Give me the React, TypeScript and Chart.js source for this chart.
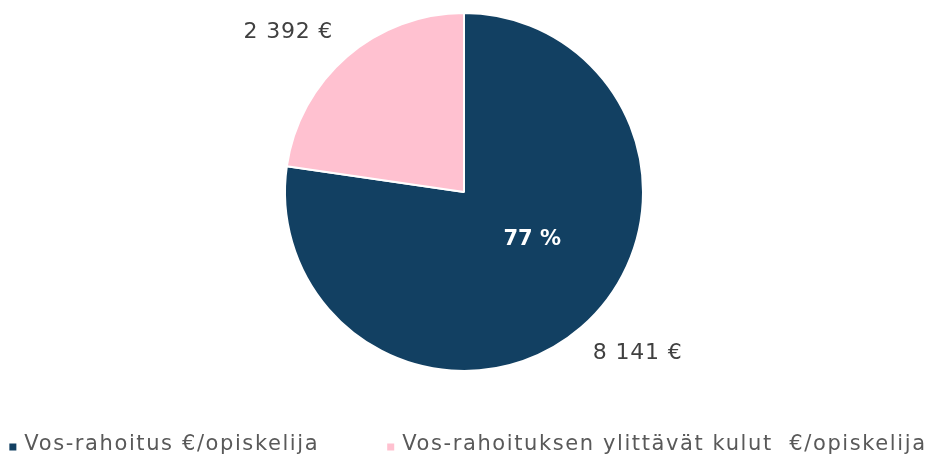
import React, { useEffect, useRef } from "react";
import { Chart, registerables } from "chart.js";

Chart.register(...registerables);

const categories = ["Vos-rahoitus €/opiskelija", "Vos-rahoituksen ylittävät kulut  €/opiskelija"];
const values = [8141, 2392];
const valueLabels = ["8 141 €", "2 392 €"];
const colors = ["#124062", "#FFC1D0"];

const labelFont = "'DejaVu Sans', sans-serif";

const labelPlugin = {
  id: "sliceLabels",
  afterDatasetsDraw(chart: any) {
    const { ctx } = chart;
    const meta = chart.getDatasetMeta(0);
    const total = values.reduce((a, b) => a + b, 0);
    ctx.save();
    ctx.textAlign = "center";
    ctx.textBaseline = "middle";
    meta.data.forEach((arc: any, i: number) => {
      const { x, y, startAngle, endAngle, outerRadius } = arc.getProps(
        ["x", "y", "startAngle", "endAngle", "outerRadius"],
        true
      );
      const mid = (startAngle + endAngle) / 2;
      const a = mid - (6.5 * Math.PI) / 180;
      const r = outerRadius * 1.326;
      ctx.fillStyle = "#404040";
      ctx.font = `22px ${labelFont}`;
      (ctx as any).letterSpacing = "0.8px";
      ctx.fillText(valueLabels[i], x + Math.cos(a) * r - 1, y + Math.sin(a) * r + 1);
      (ctx as any).letterSpacing = "0px";
      if (i === 0) {
        const pct = Math.round((values[i] / total) * 100) + " %";
        const a2 = mid - (14 * Math.PI) / 180;
        const r2 = outerRadius * 0.466;
        ctx.fillStyle = "#FFFFFF";
        ctx.font = `bold 21px ${labelFont}`;
        ctx.fillText(pct, x + Math.cos(a2) * r2, y + Math.sin(a2) * r2);
      }
    });
    ctx.restore();
  },
};

const legendPlugin = {
  id: "bottomLegend",
  afterDraw(chart: any) {
    const { ctx } = chart;
    const labels: string[] = chart.data.labels;
    const bg: string[] = chart.data.datasets[0].backgroundColor;
    ctx.save();
    ctx.font = `21px ${labelFont}`;
    (ctx as any).letterSpacing = "1.6px";
    ctx.textBaseline = "middle";
    ctx.textAlign = "left";
    const box = 7;
    const boxGap = 8;
    const itemGap = 68;
    const widths = labels.map((l) => box + boxGap + ctx.measureText(l).width);
    const total = widths.reduce((a, b) => a + b, 0) + itemGap * (labels.length - 1);
    let x = 468 - total / 2;
    const yMid = 445;
    labels.forEach((l, i) => {
      ctx.fillStyle = bg[i];
      ctx.fillRect(x, yMid - box / 2 + 2, box, box);
      ctx.fillStyle = "#595959";
      ctx.fillText(l, x + box + boxGap, yMid);
      x += widths[i] + itemGap;
    });
    ctx.restore();
  },
};

export default function App() {
  const ref = useRef<HTMLCanvasElement | null>(null);
  useEffect(() => {
    if (!ref.current) return;
    const chart = new Chart(ref.current, {
      type: "pie",
      data: {
        labels: categories,
        datasets: [
          {
            data: values,
            backgroundColor: colors,
            borderColor: "#FFFFFF",
            borderWidth: 2,
          },
        ],
      },
      options: {
        responsive: false,
        animation: false,
        layout: { padding: { top: 12, bottom: 84, left: 0, right: 0 } },
        plugins: {
          tooltip: { enabled: false },
          legend: { display: false },
        },
      },
      plugins: [labelPlugin, legendPlugin],
    });
    return () => chart.destroy();
  }, []);
  return (
    <div style={{ position: "fixed", left: 0, top: 0, width: 928, height: 456, background: "#fff" }}>
      <canvas ref={ref} width={928} height={456} />
    </div>
  );
}
